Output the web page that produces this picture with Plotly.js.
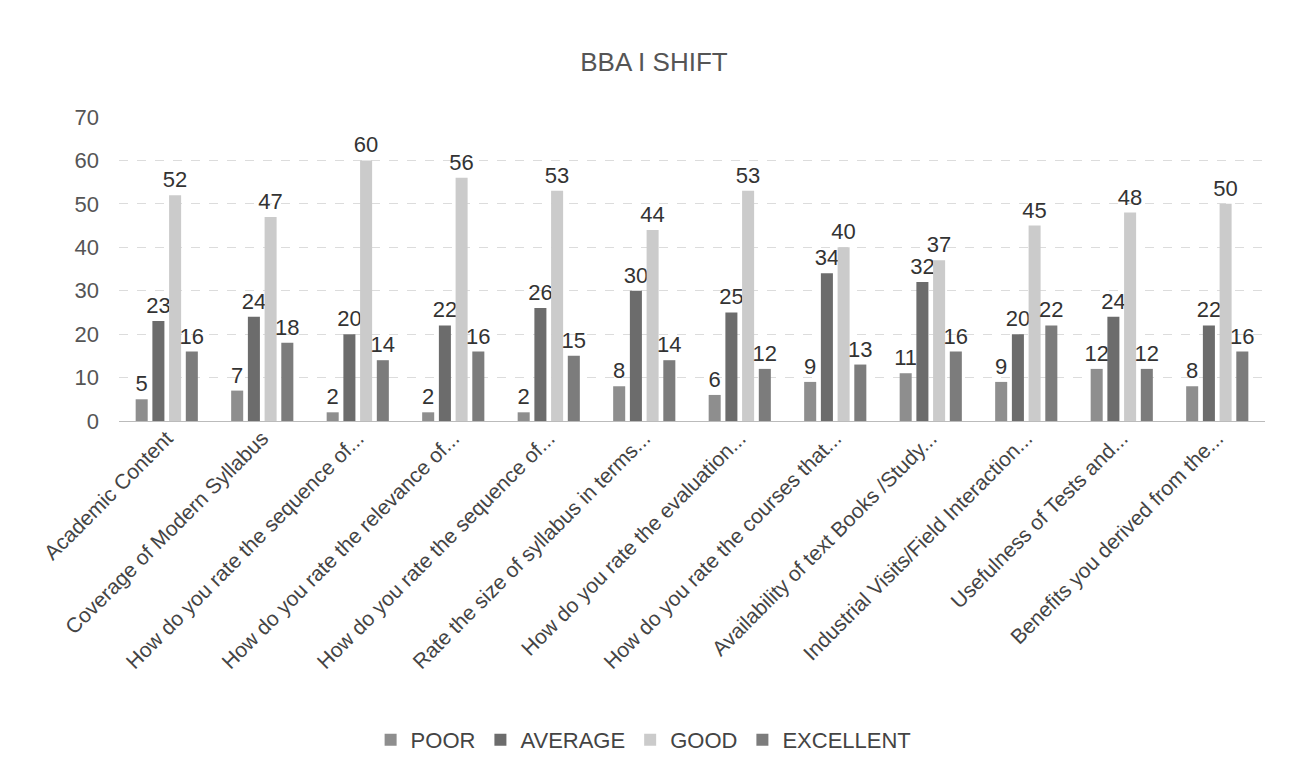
<!DOCTYPE html>
<html>
<head>
<meta charset="utf-8">
<script src="https://cdn.plot.ly/plotly-3.0.1.min.js"></script>
<style>html,body{margin:0;padding:0;background:#fff;}#chart{width:1295px;height:774px;}</style>
</head>
<body>
<div id="chart"></div>
<script>
const categories = [
  "Academic Content",
  "Coverage of Modern Syllabus",
  "How do you rate the sequence of...",
  "How do you rate the relevance of...",
  "How do you rate the sequence of...",
  "Rate the size of syllabus in terms...",
  "How do you rate the evaluation...",
  "How do you rate the courses that...",
  "Availability of text Books /Study...",
  "Industrial Visits/Field Interaction...",
  "Usefulness of Tests and...",
  "Benefits you derived from the..."
];
const poor      = [5, 7, 2, 2, 2, 8, 6, 9, 11, 9, 12, 8];
const average   = [23, 24, 20, 22, 26, 30, 25, 34, 32, 20, 24, 22];
const good      = [52, 47, 60, 56, 53, 44, 53, 40, 37, 45, 48, 50];
const excellent = [16, 18, 14, 16, 15, 14, 12, 13, 16, 22, 12, 16];
const seriesNames = ["POOR", "AVERAGE", "GOOD", "EXCELLENT"];
const yTicks = [0, 10, 20, 30, 40, 50, 60, 70];

const idx = categories.map((c, i) => i);
const colors = ["#8e8e8e", "#6c6c6c", "#cbcbcb", "#7c7c7c"];
const vals = [poor, average, good, excellent];

const traces = vals.map((v, k) => ({
  type: "bar",
  name: seriesNames[k],
  x: idx,
  y: v,
  text: v.map(String),
  textposition: "outside",
  constraintext: "none",
  cliponaxis: false,
  textfont: {family: "Liberation Sans, Arial, sans-serif", size: 22, color: "#333"},
  marker: {color: colors[k]},
  hoverinfo: "x+y+name"
}));

const layout = {
  width: 1295, height: 774,
  paper_bgcolor: "#fff", plot_bgcolor: "#fff",
  font: {family: "Liberation Sans, Arial, sans-serif", color: "#444"},
  title: {text: "BBA I SHIFT", x: 0.505, xanchor: "center", y: 0.92, yanchor: "middle",
          font: {size: 26, color: "#555"}},
  margin: {l: 119, r: 30, t: 117, b: 353},
  barmode: "group",
  bargap: 0.3,
  bargroupgap: 0.28,
  uniformtext: {mode: false},
  xaxis: {
    tickmode: "array", tickvals: idx, ticktext: categories,
    tickangle: -45, tickfont: {size: 21, color: "#444"},
    range: [-0.5, 11.5], showgrid: false, zeroline: false, showline: false, ticks: ""
  },
  yaxis: {
    range: [0, 70], tickmode: "array", tickvals: yTicks,
    tickfont: {size: 22, color: "#555"},
    gridcolor: "#dcdcdc", griddash: "dash", zeroline: true, zerolinecolor: "#bbb",
    ticks: "", ticklabelstandoff: 19
  },
  showlegend: true,
  legend: {orientation: "h", xref: "container", yref: "container", x: 0.497, xanchor: "center",
           y: 0.044, yanchor: "middle", font: {size: 22, color: "#444"}, itemwidth: 30,
           traceorder: "normal"}
};

Plotly.newPlot("chart", traces, layout, {displayModeBar: false, staticPlot: true});
</script>
</body>
</html>
